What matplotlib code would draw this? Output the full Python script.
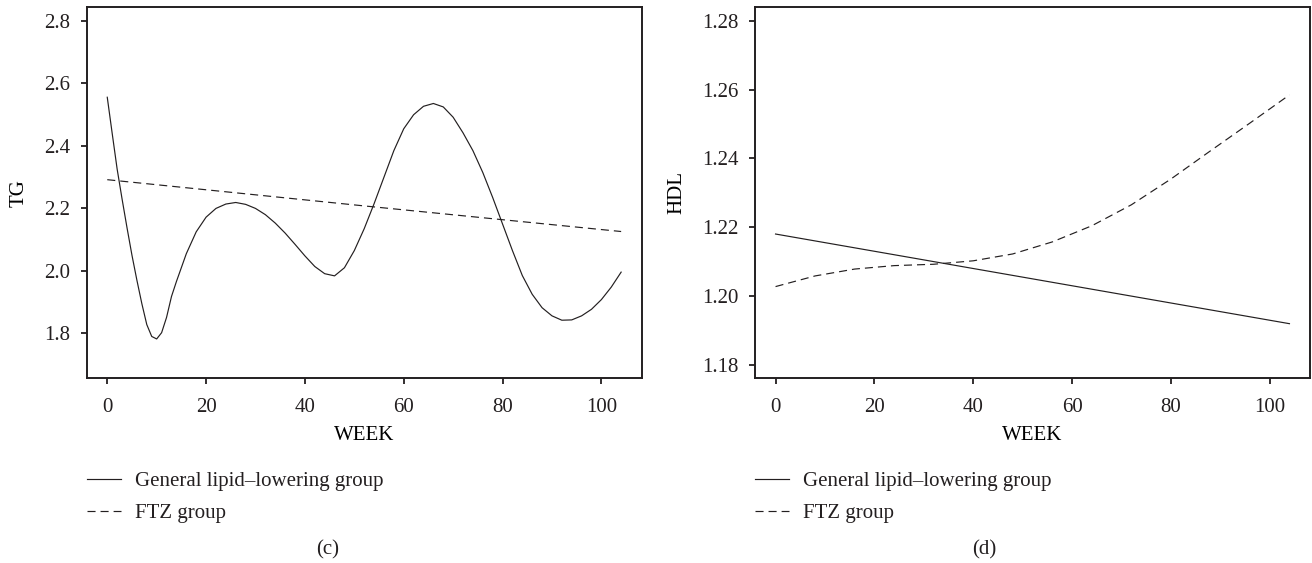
#!/usr/bin/env python3
"""TG / HDL trend over weeks for the two treatment groups, panels (c) and (d)."""

import matplotlib

matplotlib.use("Agg")
import matplotlib.pyplot as plt

# ---- data ----
# panel (c): TG, general lipid-lowering group (solid)
tg_general_weeks = [0, 1, 2, 3, 4, 5, 6, 7, 8, 9, 10, 11, 12, 13, 14, 16, 18, 20, 22, 24,
                    26, 28, 30, 32, 34, 36, 38, 40, 42, 44, 46, 48, 50, 52, 54, 56, 58, 60,
                    62, 64, 66, 68, 70, 72, 74, 76, 78, 80, 82, 84, 86, 88, 90, 92, 94, 96,
                    98, 100, 102, 104]
tg_general = [2.556, 2.440, 2.326, 2.230, 2.138, 2.050, 1.970, 1.895, 1.828, 1.790, 1.782,
              1.802, 1.851, 1.918, 1.966, 2.055, 2.125, 2.172, 2.200, 2.214, 2.219, 2.213,
              2.200, 2.180, 2.153, 2.121, 2.085, 2.048, 2.014, 1.991, 1.984, 2.010, 2.065,
              2.135, 2.215, 2.300, 2.385, 2.455, 2.500, 2.527, 2.536, 2.525, 2.492, 2.442,
              2.385, 2.315, 2.235, 2.150, 2.065, 1.985, 1.925, 1.882, 1.856, 1.842, 1.843,
              1.856, 1.877, 1.908, 1.948, 1.996]
# panel (c): TG, FTZ group (dashed)
tg_ftz_weeks = [0, 52, 104]
tg_ftz = [2.292, 2.208, 2.126]

# panel (d): HDL, general lipid-lowering group (solid)
hdl_general_weeks = [0, 104]
hdl_general = [1.2180, 1.1919]
# panel (d): HDL, FTZ group (dashed)
hdl_ftz_weeks = [0, 8, 16, 24, 32, 40, 48, 56, 64, 72, 80, 88, 96, 104]
hdl_ftz = [1.2027, 1.2058, 1.2078, 1.2088, 1.2092, 1.2102, 1.2122, 1.2157, 1.2204,
           1.2265, 1.2340, 1.2422, 1.2503, 1.2585]

series_labels = ["General lipid\u2013lowering group", "FTZ group"]
panel_tags = ["(c)", "(d)"]
y_labels = ["TG", "HDL"]
y_ticks = [[1.8, 2.0, 2.2, 2.4, 2.6, 2.8], [1.18, 1.20, 1.22, 1.24, 1.26, 1.28]]
y_ranges = [(1.7, 2.8), (1.18, 1.28)]
x_ticks = [0, 20, 40, 60, 80, 100]

INK = "#231f20"
W, H = 1312, 563
FS = 15


def expand(lo, hi, frac=0.04):
    # R style axis padding
    d = (hi - lo) * frac
    return lo - d, hi + d


def main() -> None:
    plt.rcParams.update(
        {
            "font.family": ["Liberation Serif", "DejaVu Serif"],
            "font.size": FS,
            "lines.scale_dashes": False,
            "text.color": INK,
            "axes.edgecolor": INK,
            "xtick.color": INK,
            "ytick.color": INK,
        }
    )
    fig = plt.figure(figsize=(W / 100, H / 100), dpi=100)

    lefts = [86.7, 755.0]
    top, bottom = 7.3, 378.3
    width = 555.0
    dash = (0, (5.8, 3.6))

    panels = [
        ((tg_general_weeks, tg_general), (tg_ftz_weeks, tg_ftz)),
        ((hdl_general_weeks, hdl_general), (hdl_ftz_weeks, hdl_ftz)),
    ]

    for i, (solid, dashed) in enumerate(panels):
        ax = fig.add_axes([lefts[i] / W, 1 - bottom / H, width / W, (bottom - top) / H])
        l1, = ax.plot(solid[0], solid[1], color=INK, lw=0.85, ls="-")
        l2, = ax.plot(dashed[0], dashed[1], color=INK, lw=0.85, ls=dash)

        ax.set_xlim(*expand(0, 104))
        ax.set_ylim(*expand(*y_ranges[i]))
        ax.set_xticks(x_ticks)
        ax.set_yticks(y_ticks[i])
        fmt = "{:.1f}" if i == 0 else "{:.2f}"
        ax.set_yticklabels([fmt.format(v) for v in y_ticks[i]])
        ax.tick_params(direction="out", length=4, width=1.3, labelsize=FS, pad=8)
        ax.tick_params(axis="x", pad=10)
        for s in ax.spines.values():
            s.set_linewidth(1.4)

        ax.set_xlabel("WEEK", fontsize=FS, labelpad=7)
        ax.set_ylabel(y_labels[i], fontsize=FS, labelpad=11)

        ax.legend(
            [l1, l2],
            series_labels,
            loc="upper left",
            bbox_to_anchor=(0.0, -0.252),
            frameon=False,
            fontsize=FS,
            handlelength=1.63,
            handletextpad=0.69,
            labelspacing=0.58,
            borderpad=0,
            borderaxespad=0,
        )

        fig.text((i * 656 + 328) / W, 1 - 550 / H, panel_tags[i],
                 ha="center", va="center", fontsize=FS)

    fig.savefig("out.png", dpi=100)
    plt.close(fig)


if __name__ == "__main__":
    main()
